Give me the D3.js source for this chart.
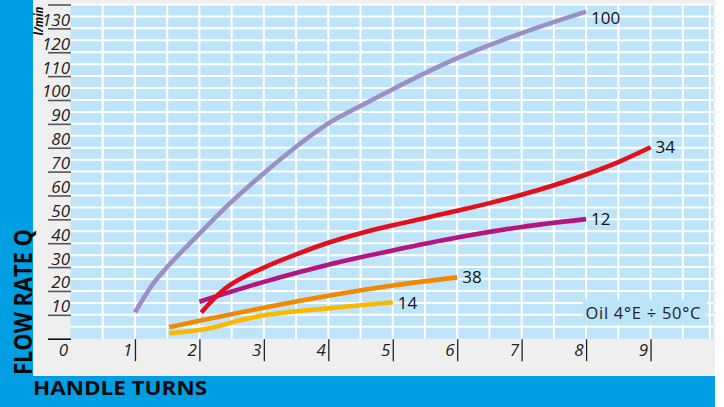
<!DOCTYPE html>
<html>
<head>
<meta charset="utf-8">
<script src="https://cdn.jsdelivr.net/npm/d3@7"></script>
<style>
  body { margin: 0; background: #fff; }
  svg { display: block; font-family: "Open Sans", sans-serif; }
</style>
</head>
<body>
<svg id="chart" width="724" height="407"></svg>
<script>
// flow rate vs handle turns, one curve per valve size
const turns100 = [1, 1.28, 1.5, 2, 2.5, 3, 3.5, 4, 4.5, 5, 6, 7, 8];
const flow100  = [11, 23, 30, 44, 57.4, 69.3, 80.4, 90.2, 97.5, 104.5, 117.5, 128, 137];
const turns34 = [2.03, 2.2, 2.4, 2.7, 3, 3.5, 4, 4.5, 5, 6, 6.5, 7, 7.5, 8, 8.5, 9];
const flow34  = [11, 16, 21, 26, 29.8, 35.3, 40.2, 44.2, 47.5, 53.6, 56.8, 60.3, 64.3, 68.8, 74, 80.2];
const turns12 = [2, 3, 4, 5, 6, 7, 8];
const flow12  = [15.5, 23.8, 31, 37, 42.4, 46.8, 50.1];
const turns38 = [1.53, 2, 3, 4, 5, 6];
const flow38  = [4.8, 7.5, 13, 18, 22.3, 25.7];
const turns14 = [1.53, 2.2, 2.6, 3, 3.5, 4, 4.5, 5];
const flow14  = [2.3, 4.6, 7.5, 9.8, 11.5, 12.7, 14, 15.2];

const seriesNames = ["100", "12", "34", "38", "14"];
const seriesTurns = [turns100, turns12, turns34, turns38, turns14];
const seriesFlow  = [flow100, flow12, flow34, flow38, flow14];
const seriesColors = ["#9c8fc5", "#b5157f", "#e3101b", "#f08800", "#fbb800"];

const yTicks = d3.range(0, 150, 10);
const xTicks = d3.range(0, 10, 1);
const legendText = "Oil 4°E ÷ 50°C";

const svg = d3.select("#chart");

const x = d3.scaleLinear().domain([0, 10]).range([70.5, 715]);
const y = d3.scaleLinear().domain([0, 140]).range([338.7, 4.5]);

// frame: blue bands + grey panel
svg.append("rect").attr("x", 0).attr("y", 0).attr("width", 715).attr("height", 407).attr("fill", "#009fe3");
svg.append("rect").attr("x", 33).attr("y", 0).attr("width", 682).attr("height", 376).attr("fill", "#efefef");

// plot background
svg.append("rect")
  .attr("x", x(0)).attr("y", y(140.3))
  .attr("width", x(9.97) - x(0)).attr("height", y(0) - y(140.3))
  .attr("fill", "#bee4f9");

// grid
const grid = svg.append("g").attr("stroke", "#fff").attr("stroke-width", 2);
grid.selectAll("line.v")
  .data(d3.range(0.5, 10, 0.5).concat([9.92]))
  .enter().append("line")
    .attr("class", "v")
    .attr("x1", d => x(d)).attr("x2", d => x(d))
    .attr("y1", y(140.3)).attr("y2", y(0));
grid.selectAll("line.h")
  .data(d3.range(5, 145, 5))
  .enter().append("line")
    .attr("class", "h")
    .attr("x1", x(0)).attr("x2", x(9.97))
    .attr("y1", d => y(d)).attr("y2", d => y(d));

// y axis: labels sit on top of the tick lines
const yAxis = svg.append("g")
  .attr("transform", `translate(${x(0) + 0.5},0)`)
  .call(d3.axisLeft(y).tickValues(yTicks).tickSize(23)
    .tickFormat(d => (d === 0 || d === 140) ? "" : d));
yAxis.select(".domain").remove();
yAxis.selectAll(".tick line")
  .attr("stroke", d => d === 0 ? "#111" : "#555")
  .attr("stroke-width", 1.6);
yAxis.selectAll(".tick text")
  .attr("x", -1).attr("dy", "-3")
  .attr("font-size", 17).attr("font-style", "italic")
  .attr("font-family", "Open Sans").attr("fill", "#222");

// x axis
const xAxis = svg.append("g")
  .attr("transform", `translate(0,${y(0) + 0.5})`)
  .call(d3.axisBottom(x).tickValues(xTicks).tickSize(22));
xAxis.select(".domain").remove();
xAxis.selectAll(".tick line")
  .attr("stroke", "#222").attr("stroke-width", 1.3)
  .attr("opacity", d => d === 0 ? 0 : 1);
xAxis.selectAll(".tick text")
  .attr("x", -3).attr("y", 17).attr("dy", 0)
  .attr("text-anchor", "end")
  .attr("font-size", 17).attr("font-style", "italic")
  .attr("font-family", "Open Sans").attr("fill", "#222");

// legend box
const legend = svg.append("g");
legend.append("rect")
  .attr("x", x(7.95)).attr("y", y(16.5))
  .attr("width", x(9.87) - x(7.95)).attr("height", y(6) - y(16.5))
  .attr("fill", "#bee4f9");
legend.append("text")
  .attr("x", x(7.99)).attr("y", y(8.4))
  .attr("font-size", 16.5).attr("fill", "#222")
  .attr("textLength", 115).attr("lengthAdjust", "spacing")
  .text(legendText);

// curves
const line = d3.line()
  .x(d => x(d[0]))
  .y(d => y(d[1]))
  .curve(d3.curveMonotoneX);

seriesNames.forEach((name, i) => {
  const pts = seriesTurns[i].map((t, j) => [t, seriesFlow[i][j]]);
  svg.append("path")
    .datum(pts)
    .attr("fill", "none")
    .attr("stroke", seriesColors[i])
    .attr("stroke-width", 4.6)
    .attr("d", line);
  const last = pts[pts.length - 1];
  svg.append("text")
    .attr("x", x(last[0]) + 5)
    .attr("y", Math.max(y(last[1]), 18))
    .attr("dy", "0.36em")
    .attr("font-size", 17).attr("fill", "#111")
    .text(name);
});

// axis titles
svg.append("text")
  .attr("transform", "translate(43,21) rotate(-90)")
  .attr("text-anchor", "middle")
  .attr("font-size", 11.5).attr("font-weight", 700).attr("font-style", "italic")
  .attr("fill", "#111")
  .text("l/min");

svg.append("text")
  .attr("transform", "translate(31.5,375) rotate(-90)")
  .attr("font-size", 25).attr("font-weight", 700)
  .attr("textLength", 146).attr("lengthAdjust", "spacingAndGlyphs")
  .attr("fill", "#0a0a0a")
  .text("FLOW RATE Q");

svg.append("text")
  .attr("x", 33).attr("y", 395)
  .attr("font-size", 20).attr("font-weight", 700)
  .attr("textLength", 174).attr("lengthAdjust", "spacingAndGlyphs")
  .attr("fill", "#0a0a0a")
  .text("HANDLE TURNS");
</script>
</body>
</html>
